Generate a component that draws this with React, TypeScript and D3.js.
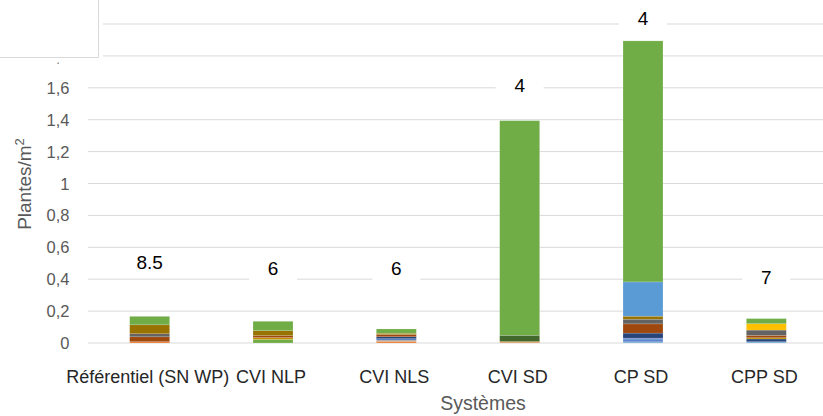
import React from "react";
import * as d3 from "d3";

// Systems on the x axis
const categories = ["Référentiel (SN WP)", "CVI NLP", "CVI NLS", "CVI SD", "CP SD", "CPP SD"];

// Stacked weed densities (plants/m²), bottom to top
const sOrange = [0.008, 0, 0.011, 0.005, 0, 0];
const sPaleBlue = [0, 0, 0, 0, 0.008, 0.008];
const sLowGreen = [0, 0.022, 0, 0, 0, 0];
const sGray = [0, 0, 0.008, 0, 0, 0];
const sBlue = [0, 0, 0.008, 0, 0.011, 0];
const sMidBlue = [0, 0, 0, 0, 0.012, 0];
const sNavy = [0, 0, 0.0125, 0, 0.031, 0.017];
const sDarkYellow = [0, 0.012, 0, 0, 0, 0.008];
const sRust = [0.031, 0.012, 0.014, 0, 0.058, 0.015];
const sDarkGray = [0.019, 0, 0, 0, 0.029, 0.033];
const sYellow = [0, 0, 0, 0, 0, 0.04];
const sOlive = [0.056, 0.031, 0.0075, 0.005, 0.019, 0];
const sDarkGreen = [0, 0, 0, 0.038, 0, 0];
const sSky = [0, 0, 0, 0, 0.215, 0];
const sGreen = [0.053, 0.059, 0.027, 1.346, 1.511, 0.032];

const seriesValues = [
  sOrange, sPaleBlue, sLowGreen, sGray, sBlue, sMidBlue, sNavy, sDarkYellow,
  sRust, sDarkGray, sYellow, sOlive, sDarkGreen, sSky, sGreen,
];
const seriesColors = [
  "#ED7D31", "#7CAFDD", "#70AD47", "#A5A5A5", "#4472C4", "#698ED0", "#264478", "#BF9000",
  "#9E480E", "#636363", "#FFC000", "#997300", "#43682B", "#5B9BD5", "#70AD47",
];

// Annotations above each bar and the axis level where each one sits
const barNotes = ["8.5", "6", "6", "4", "4", "7"];
const noteLevels = [0.508, 0.47, 0.47, 1.617, 2.04, 0.414];

const yTicks = [0, 0.2, 0.4, 0.6, 0.8, 1, 1.2, 1.4, 1.6, 1.8, 2];

const W = 823;
const H = 416;
const plotLeft = 88;
const plotRight = 828;
const plotTop = 24;
const plotBottom = 343;

export default function App() {
  const keys = seriesValues.map((_, i) => `s${i}`);
  const rows = categories.map((c, ci) => {
    const r: Record<string, number | string> = { cat: c };
    seriesValues.forEach((s, si) => (r[keys[si]] = s[ci]));
    return r;
  });
  const stacked = d3.stack<any>().keys(keys)(rows as any);

  const x = d3.scaleBand<string>().domain(categories).range([plotLeft, plotRight]).paddingInner(0.676).paddingOuter(0.338);
  const y = d3.scaleLinear().domain([0, 2]).range([plotBottom, plotTop]);
  const fmt = (v: number) => d3.format(".1~f")(v).replace(".", ",");
  const font = "'Liberation Sans', Arial, sans-serif";

  return (
    <svg width={W} height={H} style={{ position: "absolute", left: 0, top: 0, background: "#fff" }}>
      {/* gridlines */}
      {yTicks.map((t) => (
        <line key={t} x1={plotLeft} x2={W} y1={y(t)} y2={y(t)} stroke="#D9D9D9" strokeWidth={1} />
      ))}
      {/* y tick labels */}
      {yTicks.map((t) => (
        <text key={"l" + t} x={69.5} y={y(t) + 6} textAnchor="end" fontFamily={font} fontSize={16.5} fill="#595959">
          {fmt(t)}
        </text>
      ))}
      {/* stacked bars */}
      {stacked.map((layer, li) => (
        <g key={li} fill={seriesColors[li]}>
          {layer.map((d, ci) =>
            d[1] - d[0] > 0 ? (
              <rect
                key={ci}
                x={x(categories[ci])!}
                width={x.bandwidth()}
                y={y(d[1])}
                height={y(d[0]) - y(d[1])}
                stroke="#fff"
                strokeOpacity={0.25}
                strokeWidth={0.6}
              />
            ) : null
          )}
        </g>
      ))}
      {/* notes above bars */}
      {barNotes.map((n, i) => {
        const cx = x(categories[i])! + x.bandwidth() / 2;
        const cy = y(noteLevels[i]);
        return (
          <g key={"n" + i}>
            <rect x={cx - 24} y={cy - 14} width={48} height={28} fill="#fff" />
            <text x={cx} y={cy + 7} textAnchor="middle" fontFamily={font} fontSize={19} fill="#000">
              {n}
            </text>
          </g>
        );
      })}
      {/* category labels */}
      {categories.map((c) => (
        <text key={c} x={x(c)! + x.bandwidth() / 2 - 2} y={383} textAnchor="middle" fontFamily={font} fontSize={18} fill="#262626">
          {c}
        </text>
      ))}
      {/* axis titles */}
      <text x={483} y={410} textAnchor="middle" fontFamily={font} fontSize={19.5} fill="#595959">
        Systèmes
      </text>
      <text transform={`translate(31,${184}) rotate(-90)`} textAnchor="middle" fontFamily={font} fontSize={19} fill="#595959">
        Plantes/m<tspan dy={-7} fontSize={13}>2</tspan>
      </text>
      {/* title frame in the corner */}
      <rect x={0} y={0} width={103} height={62.5} fill="#fff" />
      <line x1={98.5} x2={98.5} y1={0} y2={57.5} stroke="#D9D9D9" strokeWidth={1} />
      <line x1={0} x2={98.5} y1={57.5} y2={57.5} stroke="#D9D9D9" strokeWidth={1} />
    </svg>
  );
}
